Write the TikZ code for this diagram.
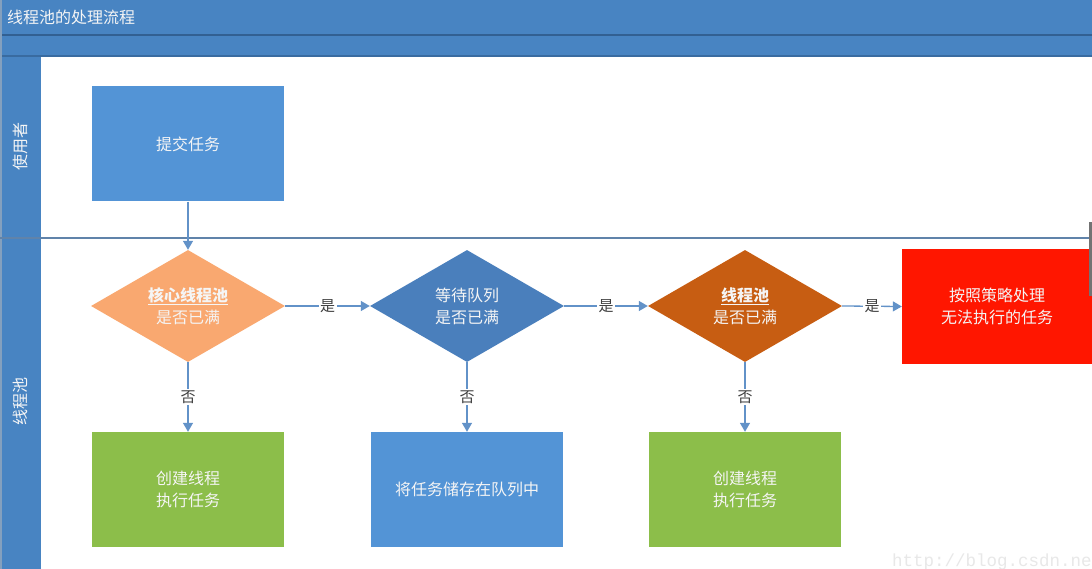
\documentclass[tikz,border=0pt]{standalone}
\usepackage{fontspec}
\setmainfont{Noto Sans CJK SC}
\newfontfamily\wmfont{Liberation Mono}
\usetikzlibrary{shapes.geometric,arrows.meta}
\definecolor{bandblue}{RGB}{72,132,194}
\definecolor{banddark}{RGB}{50,96,146}
\definecolor{boxblue}{RGB}{83,148,214}
\definecolor{dblue}{RGB}{74,127,188}
\definecolor{dorange}{RGB}{249,168,112}
\definecolor{dbrown}{RGB}{199,93,18}
\definecolor{boxred}{RGB}{255,22,0}
\definecolor{boxgreen}{RGB}{140,190,74}
\definecolor{linecol}{RGB}{98,146,200}
\definecolor{txtwhite}{RGB}{245,245,245}
\tikzset{
  shapetext/.style={text=txtwhite, font=\fontsize{16}{22}\selectfont, align=center, inner sep=0pt},
  procbox/.style={shapetext, rectangle, minimum width=192pt, minimum height=115pt},
  decision/.style={shapetext, diamond, aspect=1.75, minimum width=194pt, minimum height=112pt},
  flow/.style={draw=linecol, line width=1.3pt, -{Triangle[width=10pt,length=9pt]}},
  edgelabel/.style={fill=white, text=black!75, font=\fontsize{15}{18}\selectfont, inner sep=1.5pt},
  lanelabel/.style={text=txtwhite, font=\fontsize{16}{18}\selectfont, rotate=90, inner sep=0pt}
}
\begin{document}
\begin{tikzpicture}[x=1pt,y=-1pt]
\useasboundingbox (0,0) rectangle (1092,569);
\fill[white] (0,0) rectangle (1092,569);
% header bands
\fill[bandblue] (0,0) rectangle (1092,35);
\fill[banddark] (0,34.5) rectangle (1092,36.5);
\fill[bandblue] (0,36.5) rectangle (1092,56);
\fill[banddark!70!bandblue] (0,55) rectangle (1092,57);
% left lane column
\fill[bandblue] (0,57) rectangle (41,569);
\fill[banddark!60!white] (0,0) rectangle (1.5,569);
% lane divider
\draw[linecol!80!black!90, line width=1.2pt] (0,238) -- (1092,238);
% title
\node[anchor=west, text=txtwhite, font=\fontsize{16}{18}\selectfont, inner sep=0pt] (title) at (7,17) {线程池的处理流程};
% lane labels
\node[lanelabel] (lane1) at (20,147) {使用者};
\node[lanelabel] (lane2) at (20,401) {线程池};
% shapes
\node[procbox, fill=boxblue] (submit) at (188,144) {提交任务};
\node[decision, fill=dorange] (d1) at (188,306) {\underline{\textbf{核心线程池}}\\是否已满};
\node[decision, fill=dblue] (d2) at (467,306) {等待队列\\是否已满};
\node[decision, fill=dbrown] (d3) at (745,306) {\underline{\textbf{线程池}}\\是否已满};
\node[procbox, fill=boxred, minimum width=190pt] (reject) at (997,306.5) {按照策略处理\\无法执行的任务};
\node[procbox, fill=boxgreen] (g1) at (188,489.5) {创建线程\\执行任务};
\node[procbox, fill=boxblue] (queue) at (467,489.5) {将任务储存在队列中};
\node[procbox, fill=boxgreen] (g2) at (745,489.5) {创建线程\\执行任务};
% connectors
\draw[flow] (submit.south) -- (d1.north);
\draw[flow] (d1.east) -- node[edgelabel] {是} (d2.west);
\draw[flow] (d2.east) -- node[edgelabel] {是} (d3.west);
\draw[flow] (d3.east) -- node[edgelabel] {是} (reject.west);
\draw[flow] (d1.south) -- node[edgelabel] {否} (g1.north);
\draw[flow] (d2.south) -- node[edgelabel] {否} (queue.north);
\draw[flow] (d3.south) -- node[edgelabel] {否} (g2.north);
% right-edge bar
\fill[black!55] (1089,222) rectangle (1092,296);
% watermark
\node[anchor=base west, text=black!9, font=\wmfont\fontsize{17.5}{18}\selectfont, inner sep=0pt] (wm) at (892,566) {http://blog.csdn.ne};
\end{tikzpicture}
\end{document}
